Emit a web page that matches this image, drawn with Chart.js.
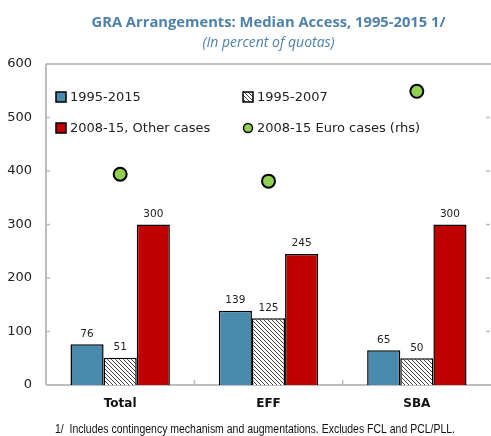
<!DOCTYPE html>
<html>
<head>
<meta charset="utf-8">
<script src="https://cdn.jsdelivr.net/npm/chart.js@4/dist/chart.umd.min.js"></script>
<style>
  html, body { margin: 0; padding: 0; background: #fff; }
  #wrap { width: 491px; height: 436px; position: relative; }
</style>
</head>
<body>
<div id="wrap"><canvas id="chart"></canvas></div>
<script>
const CATEGORIES = ['Total', 'EFF', 'SBA']
const ACCESS_1995_2015 = [76, 139, 65]
const ACCESS_1995_2007 = [51, 125, 50]
const ACCESS_2008_OTHER = [300, 245, 300]
const ACCESS_2008_EURO = [394, 381, 549]
const Y_TICKS = [0, 100, 200, 300, 400, 500, 600]

const TITLE = 'GRA Arrangements: Median Access, 1995-2015 1/'
const SUBTITLE = '(In percent of quotas)'
const FOOTNOTE = '1/  Includes contingency mechanism and augmentations. Excludes FCL and PCL/PLL.'

const BLUE = '#4a8aad'
const RED = '#c00000'
const GREEN = '#92d050'
const AXIS_GRAY = '#bdbdbd'
const TITLE_BLUE = '#4f81ad'

const makeHatch = () => {
  const c = document.createElement('canvas')
  c.width = 4
  c.height = 4
  const g = c.getContext('2d')
  g.fillStyle = '#fff'
  g.fillRect(0, 0, 4, 4)
  g.strokeStyle = '#444'
  g.lineWidth = 1
  g.beginPath()
  g.moveTo(-1, -1); g.lineTo(5, 5)
  g.moveTo(-1, 3); g.lineTo(1, 5)
  g.moveTo(3, -1); g.lineTo(5, 1)
  g.stroke()
  return g.createPattern(c, 'repeat')
}
const HATCH = makeHatch()

// titles, axis frame, tick marks, bar labels, legend and footnote
const decorations = {
  id: 'decorations',
  beforeDatasetsDraw(chart) {
    const { ctx, chartArea: a, scales } = chart
    ctx.save()
    ctx.strokeStyle = AXIS_GRAY
    ctx.lineWidth = 2
    ctx.beginPath()
    ctx.moveTo(a.left, a.top); ctx.lineTo(a.right, a.top)
    ctx.moveTo(a.left, a.top); ctx.lineTo(a.left, a.bottom)
    ctx.moveTo(a.left, a.bottom); ctx.lineTo(a.right, a.bottom)
    ctx.stroke()
    ctx.lineWidth = 1.5
    ctx.beginPath()
    Y_TICKS.forEach((v) => {
      const y = scales.y.getPixelForValue(v)
      ctx.moveTo(a.left, y); ctx.lineTo(a.left + 4, y)
      ctx.moveTo(a.right - 5, y); ctx.lineTo(a.right - 1, y)
    })
    const step = (a.right - a.left) / CATEGORIES.length
    for (let i = 1; i < CATEGORIES.length; i++) {
      const x = a.left + step * i
      ctx.moveTo(x, a.bottom); ctx.lineTo(x, a.bottom - 5)
    }
    ctx.stroke()
    ctx.restore()
  },
  afterDatasetsDraw(chart) {
    const { ctx, chartArea: a } = chart
    ctx.save()
    ctx.fillStyle = '#222'
    ctx.font = '10.5px "DejaVu Sans"'
    ctx.textAlign = 'center'
    ctx.textBaseline = 'bottom'
    for (let d = 0; d < 3; d++) {
      chart.getDatasetMeta(d).data.forEach((bar, i) => {
        ctx.fillText(chart.data.datasets[d].data[i], bar.x, bar.y - 5)
      })
    }

    // legend inside the plot, two columns
    const cols = [a.left + 10, a.left + 197]
    const rows = [a.top + 33, a.top + 64]
    ctx.font = '13px "DejaVu Sans"'
    ctx.textAlign = 'left'
    ctx.textBaseline = 'middle'
    chart.data.datasets.forEach((ds, i) => {
      const x = cols[i % 2]
      const y = rows[Math.floor(i / 2)]
      ctx.lineWidth = 1.5
      ctx.strokeStyle = '#000'
      if (ds.type === 'line') {
        ctx.beginPath()
        ctx.arc(x + 5, y, 4.5, 0, Math.PI * 2)
        ctx.fillStyle = GREEN
        ctx.fill()
        ctx.stroke()
      } else {
        ctx.fillStyle = ds.backgroundColor
        ctx.fillRect(x, y - 5, 10, 10)
        ctx.strokeRect(x, y - 5, 10, 10)
      }
      ctx.fillStyle = '#222'
      ctx.fillText(ds.label, x + 14, y + 1)
    })

    const cx = (a.left + a.right) / 2
    ctx.textAlign = 'center'
    ctx.textBaseline = 'alphabetic'
    ctx.fillStyle = TITLE_BLUE
    ctx.font = 'bold 15px "Open Sans"'
    ctx.fillText(TITLE, cx, 27, 354)
    ctx.font = 'italic 14px "Open Sans"'
    ctx.fillText(SUBTITLE, cx, 47, 138)
    ctx.fillStyle = '#111'
    ctx.font = '13px "Liberation Sans"'
    ctx.fillText(FOOTNOTE, 255, 433, 400)
    ctx.restore()
  },
}

new Chart(document.getElementById('chart'), {
  data: {
    labels: CATEGORIES,
    datasets: [
      {
        type: 'bar',
        label: '1995-2015',
        data: ACCESS_1995_2015,
        backgroundColor: BLUE,
        borderColor: '#000',
        borderWidth: 1.5,
        order: 2,
      },
      {
        type: 'bar',
        label: '1995-2007',
        data: ACCESS_1995_2007,
        backgroundColor: HATCH,
        borderColor: '#000',
        borderWidth: 1.5,
        order: 2,
      },
      {
        type: 'bar',
        label: '2008-15, Other cases',
        data: ACCESS_2008_OTHER,
        backgroundColor: RED,
        borderColor: '#000',
        borderWidth: 1.5,
        order: 2,
      },
      {
        type: 'line',
        label: '2008-15 Euro cases (rhs)',
        data: ACCESS_2008_EURO,
        yAxisID: 'y1',
        showLine: false,
        pointRadius: 6.5,
        pointBackgroundColor: GREEN,
        pointBorderColor: '#000',
        pointBorderWidth: 2,
        order: 1,
      },
    ],
  },
  options: {
    responsive: true,
    maintainAspectRatio: false,
    animation: false,
    events: [],
    datasets: {
      bar: { barPercentage: 1, categoryPercentage: 0.67 },
    },
    layout: { autoPadding: false, padding: { top: 64, right: 0, left: 0, bottom: 0 } },
    plugins: {
      legend: { display: false },
      tooltip: { enabled: false },
      title: { display: false },
    },
    scales: {
      x: {
        grid: { display: false, drawTicks: false },
        border: { display: false },
        ticks: {
          padding: 12,
          color: '#111',
          font: { family: 'DejaVu Sans', size: 12, weight: 'bold' },
        },
        afterFit: (scale) => { scale.height = 51 },
      },
      y: {
        min: 0,
        max: 600,
        afterBuildTicks: (scale) => { scale.ticks = Y_TICKS.map((value) => ({ value })) },
        grid: { display: false, drawTicks: false },
        border: { display: false },
        ticks: {
          padding: 14,
          color: '#222',
          font: { family: 'DejaVu Sans', size: 13 },
        },
        afterFit: (scale) => { scale.width = 46 },
      },
      y1: {
        display: false,
        min: 0,
        max: 600,
      },
    },
  },
  plugins: [decorations],
})
</script>
</body>
</html>
